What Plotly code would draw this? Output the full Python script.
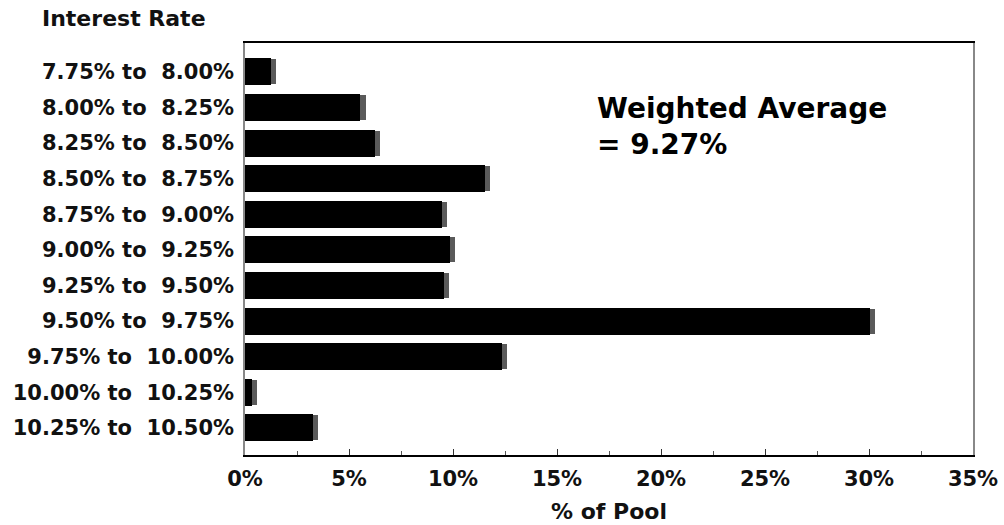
import plotly.graph_objects as go

categories = ["7.75% to\u00a0 8.00%", "8.00% to\u00a0 8.25%", "8.25% to\u00a0 8.50%", "8.50% to\u00a0 8.75%",
              "8.75% to\u00a0 9.00%", "9.00% to\u00a0 9.25%", "9.25% to\u00a0 9.50%", "9.50% to\u00a0 9.75%",
              "9.75% to\u00a0 10.00%", "10.00% to\u00a0 10.25%", "10.25% to\u00a0 10.50%"]
pct_of_pool = [1.5, 5.8, 6.5, 11.8, 9.7, 10.1, 9.8, 30.3, 12.6, 0.6, 3.5]
x_ticks = [0, 5, 10, 15, 20, 25, 30, 35]
x_tick_labels = ["0%", "5%", "10%", "15%", "20%", "25%", "30%", "35%"]
cap = 0.25  # bevel width style for 3D end of bars

FONT = "DejaVu Sans"
body = [max(v - cap, 0) for v in pct_of_pool]
caps = [v - b for v, b in zip(pct_of_pool, body)]

fig = go.Figure()
fig.add_trace(go.Bar(y=categories, x=body, orientation="h", marker=dict(color="#000000", line=dict(width=0)),
                     width=0.76, showlegend=False))
fig.add_trace(go.Bar(y=categories, x=caps, orientation="h", marker=dict(color="#5a5a5a", line=dict(width=0)),
                     width=0.70, showlegend=False))

fig.update_layout(
    barmode="stack",
    width=1004, height=525,
    margin=dict(l=245, r=31, t=43, b=70, autoexpand=False),
    paper_bgcolor="white", plot_bgcolor="white",
    font=dict(family=FONT, size=21, color="#111111", weight="bold"),
    title=dict(text="Interest Rate", xref="container", yref="container", x=42/1004, y=1-11/525,
               xanchor="left", yanchor="top", automargin=False,
               font=dict(family=FONT, size=22, color="#111111", weight="bold")),
    annotations=[dict(text="Weighted Average<br>= 9.27%", xref="x", yref="paper", x=16.85, y=0.885,
                      xanchor="left", yanchor="top", align="left", showarrow=False,
                      font=dict(family=FONT, size=28, color="#000000", weight="bold"))],
)
fig.update_xaxes(range=[0, 35], tickvals=x_ticks, ticktext=x_tick_labels, ticks="inside", ticklen=6,
                 tickcolor="#333333", tickwidth=1, showgrid=False, zeroline=False,
                 showline=True, linecolor="#000000", linewidth=2, mirror=True, automargin=False,
                 minor=dict(dtick=2.5, ticks="inside", ticklen=4, tickcolor="#555555", showgrid=False),
                 title=dict(text="% of Pool", standoff=13, font=dict(family=FONT, size=22, weight="bold")),
                 ticklabelstandoff=4)
fig.update_yaxes(type="category", categoryorder="array", categoryarray=categories,
                 range=[10.76, -0.81], showgrid=False, zeroline=False, ticks="", automargin=False,
                 showline=True, linecolor="#888888", linewidth=1.5, mirror=True,
                 ticklabelstandoff=5)

fig.write_html("out.html", config={"displayModeBar": False},
               post_script="document.body.style.margin='0';")
